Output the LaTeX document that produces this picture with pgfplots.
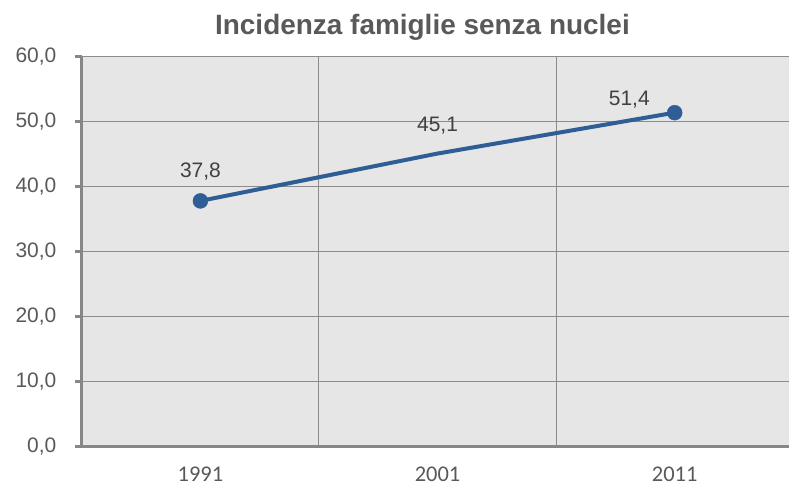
\documentclass[border=0pt]{standalone}
\usepackage{pgfplots}
\pgfplotsset{compat=1.18}
\usepackage{fontspec}
\setmainfont{Liberation Sans}
\newfontfamily\calibri{Carlito}

\definecolor{plotbg}{HTML}{E6E6E6}
\definecolor{gridc}{HTML}{8C8C8C}
\definecolor{axisc}{HTML}{878787}
\definecolor{linec}{HTML}{2F5D95}
\definecolor{txt}{HTML}{595959}
\definecolor{lbl}{HTML}{404040}

\begin{document}
\begin{tikzpicture}
\begin{axis}[
  scale only axis,
  width=708pt, height=390pt,
  xmin=-0.5, xmax=2.48,
  ymin=0, ymax=60,
  axis background/.style={fill=plotbg},
  axis x line*=bottom, axis y line*=left,
  axis line style={axisc, line width=3pt},
  xtick={0,1,2},
  xticklabels={1991,2001,2011},
  major x tick style={draw=none},
  extra x ticks={0.5,1.5},
  extra x tick labels={},
  extra x tick style={grid=major, major grid style={gridc, line width=1pt},
    major tick length=7pt, tick style={axisc, line width=3pt}, tick align=outside},
  x tick label style={font=\calibri\fontsize{22.5}{26}\selectfont, text=txt, anchor=center, yshift=-21pt},
  ytick={0,10,...,60},
  ymajorgrids,
  major grid style={gridc, line width=1pt},
  tick align=outside,
  major y tick style={axisc, line width=3pt},
  major tick length=7pt,
  y tick label style={font=\fontsize{21}{24}\selectfont, text=txt, xshift=-15pt,
    /pgf/number format/.cd, fixed, fixed zerofill, precision=1, use comma},
  /pgf/number format/assume math mode=true,
  title={Incidenza famiglie senza nuclei},
  title style={font=\bfseries\fontsize{28}{32}\selectfont, text=txt,
    at={(0.482,1)}, anchor=center, yshift=24pt},
  clip=false,
]
\addplot[linec, line width=4pt, mark=none,
  nodes near coords,
  visualization depends on={value \thisrow{dx} \as \dx},
  visualization depends on={value \thisrow{dy} \as \dy},
  every node near coord/.append style={font=\fontsize{21}{24}\selectfont, text=lbl,
    anchor=center, xshift=\dx pt, yshift=\dy pt,
    /pgf/number format/.cd, fixed, fixed zerofill, precision=1, use comma}]
  table[x=x, y=y] {
x y dx dy
0 37.8 0 29
1 45.1 0 28
2 51.4 -45.5 13.5
};
\addplot[only marks, mark=*, mark size=7.5pt, linec, fill=linec]
  table[x=x, y=y] {
x y
0 37.8
2 51.4
};
\path (rel axis cs:0,0) ++(-82pt,-41pt) (rel axis cs:1,1) ++(0pt,57pt);
\end{axis}
\end{tikzpicture}
\end{document}
